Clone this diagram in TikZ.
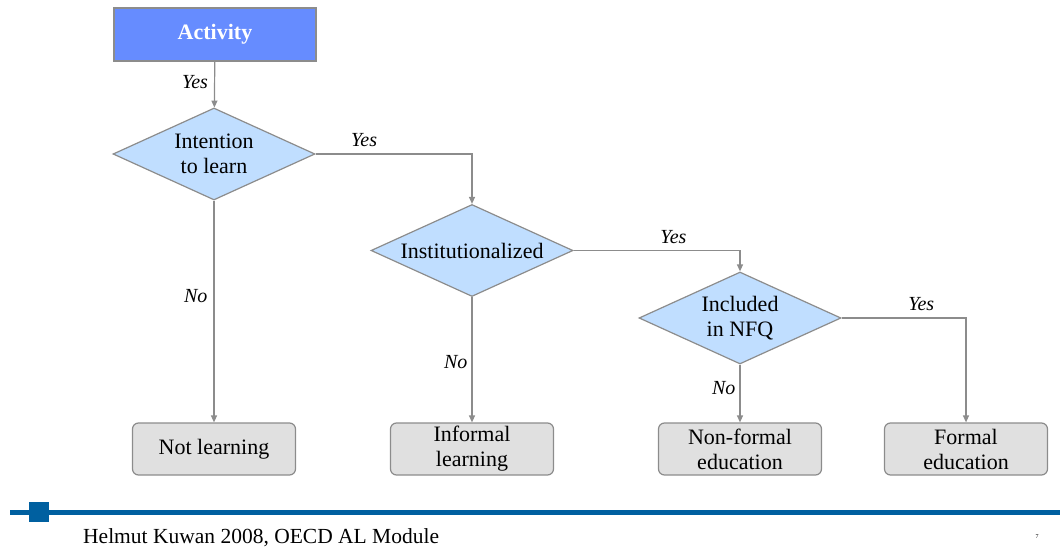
\documentclass[tikz,border=0pt]{standalone}
\usepackage{fontspec}
\setmainfont{Liberation Serif}
\usetikzlibrary{shapes.geometric,arrows.meta}
\definecolor{actblue}{RGB}{102,140,255}
\definecolor{diafill}{RGB}{192,222,255}
\definecolor{boxfill}{RGB}{224,224,224}
\definecolor{edgegray}{RGB}{140,140,140}
\definecolor{footblue}{RGB}{0,96,160}
\tikzset{
  txt/.style={font=\fontsize{22}{25}\selectfont, align=center},
  startbox/.style={draw=edgegray, line width=1.2pt, fill=actblue, text=white, font=\fontsize{22}{25}\selectfont\bfseries, minimum width=202pt, minimum height=53pt, inner sep=0pt},
  decision/.style={diamond, draw=edgegray, line width=1.2pt, fill=diafill, txt, aspect=2.2, minimum width=202pt, minimum height=92pt, inner sep=0pt},
  endbox/.style={draw=edgegray, line width=1.2pt, fill=boxfill, rounded corners=6pt, txt, minimum width=163pt, minimum height=52pt, inner sep=0pt},
  conn/.style={draw=edgegray, line width=1.2pt, -{Triangle[length=7pt,width=6pt]}},
  lbl/.style={font=\fontsize{20}{24}\selectfont\itshape, text=black, inner sep=2pt}
}
\begin{document}
\begin{tikzpicture}[x=1pt,y=-1pt]
\useasboundingbox (0,0) rectangle (1060,548);
\node[startbox] (act) at (215,34.5) {Activity};
\node[decision] (int) at (214,154) {Intention\\to learn};
\node[decision] (inst) at (472,250.5) {Institutionalized};
\node[decision] (nfq) at (740,318) {Included\\in NFQ};
\node[endbox] (notl) at (214,449) {Not learning};
\node[endbox] (infl) at (472,449) {Informal\\learning};
\node[endbox] (nfe) at (740,449) {Non-formal\\education};
\node[endbox] (fe) at (966,449) {Formal\\education};
\draw[conn] (act) -- node[lbl, left=4pt, pos=0.45] {Yes} (int);
\draw[conn] (int.east) -| node[lbl, above=5pt, pos=0.155] {Yes} (inst.north);
\draw[conn] (int.south) -- node[lbl, left=4pt, pos=0.43] {No} (notl.north);
\draw[conn] (inst.east) -| node[lbl, above=4pt, pos=0.30] {Yes} (nfq.north);
\draw[conn] (inst.south) -- node[lbl, left=2pt, pos=0.52] {No} (infl.north);
\draw[conn] (nfq.east) -| node[lbl, above=5pt, pos=0.32] {Yes} (fe.north);
\draw[conn] (nfq.south) -- node[lbl, left=2pt, pos=0.4] {No} (nfe.north);
% footer
\coordinate (fl) at (10,512);
\coordinate (fr) at (1060,512);
\draw[footblue, line width=5pt] (fl) -- (fr);
\fill[footblue] (29,502) rectangle (49,522);
\node[anchor=base west, font=\fontsize{21.5}{24}\selectfont, inner sep=0pt] (foot) at (83,543.5) {Helmut Kuwan 2008, OECD AL Module};
\node[font=\fontsize{6}{7}\selectfont, inner sep=0pt] (pg) at (1037,537) {7};
\end{tikzpicture}
\end{document}
